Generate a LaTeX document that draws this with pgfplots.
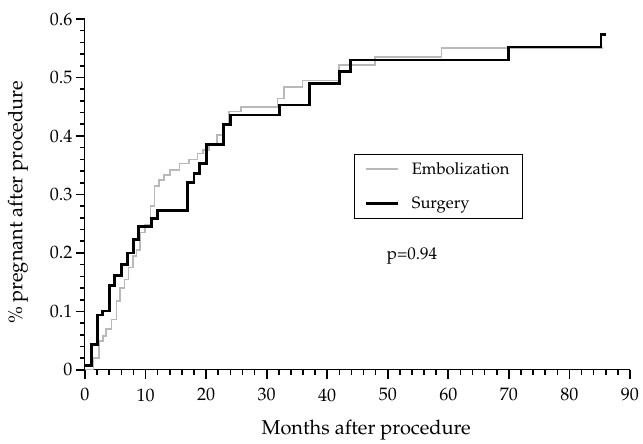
\documentclass[border=0pt]{standalone}
\usepackage[T1]{fontenc}
\usepackage{mathpazo}
\usepackage{pgfplots}
\pgfplotsset{compat=1.18}
\definecolor{embol}{RGB}{185,185,185}
\begin{document}
\begin{tikzpicture}
\begin{axis}[
  scale only axis,
  width=545pt, height=351pt,
  xmin=0, xmax=90, ymin=0, ymax=0.6,
  axis x line*=bottom, axis y line*=left,
  xtick={0,10,20,30,40,50,60,70,80,90},
  ytick={0,0.1,0.2,0.3,0.4,0.5,0.6},
  minor x tick num=4, minor y tick num=4,
  tick align=outside,
  major tick length=9pt, minor tick length=5pt,
  major tick style={black, line width=1.8pt},
  minor tick style={black, line width=1.6pt},
  every outer x axis line/.append style={line width=1pt},
  every outer y axis line/.append style={line width=1pt},
  tick label style={font=\fontsize{18}{20}\selectfont},
  xticklabel style={yshift=-6pt},
  xlabel={Months after procedure},
  ylabel={\% pregnant after procedure},
  every axis x label/.style={at={(axis description cs:0.516,0)}, anchor=base, yshift=-65pt, font=\fontsize{20}{24}\selectfont},
  every axis y label/.style={at={(axis description cs:-0.123,0.477)}, rotate=90, anchor=center, font=\fontsize{20}{24}\selectfont},
  legend style={at={(axis cs:44.4,0.369)}, anchor=north west, draw=black,
    font=\fontsize{16.5}{19}\selectfont, inner xsep=11pt, inner ysep=6pt, row sep=17pt,
    /tikz/every odd column/.style={column sep=10pt}},
  legend cell align=left,
  legend image code/.code={\draw[#1] (0pt,0pt) -- (32pt,0pt);},
]
\addplot[const plot, color=embol, line width=1.6pt] coordinates {
(0,0) (1.4,0.02) (2.3,0.05) (3.0,0.058) (3.5,0.07) (4.4,0.086) (5.2,0.118)
(5.8,0.14) (6.5,0.155) (7.2,0.175) (7.9,0.195) (8.5,0.205) (9.1,0.235)
(9.9,0.248) (10.8,0.28) (11.5,0.315) (12.2,0.325) (13.0,0.333) (14.0,0.342)
(15.6,0.353) (17.2,0.36) (18.6,0.37) (19.5,0.376) (20.5,0.385) (21.8,0.402)
(22.8,0.42) (23.8,0.442) (25.8,0.45) (31.8,0.464) (32.9,0.484) (35.9,0.495)
(41.9,0.521) (47.9,0.535) (58.9,0.55) (85.5,0.55)
};
\addlegendentry{Embolization}
\addplot[const plot, color=black, line width=2.8pt] coordinates {
(0,0.008) (1.1,0.044) (2.0,0.094) (2.9,0.101) (4.1,0.145) (4.9,0.161)
(6.0,0.181) (7.0,0.2) (8.0,0.223) (8.9,0.245) (11.0,0.259) (12.0,0.272)
(16.9,0.320) (18.0,0.336) (18.9,0.353) (20.0,0.385) (22.9,0.419) (24.0,0.436)
(32.1,0.453) (37.1,0.490) (42.0,0.510) (43.9,0.530) (69.9,0.552) (85.2,0.573)
(86.1,0.573)
};
\addlegendentry{Surgery}
\node[font=\fontsize{17}{20}\selectfont] at (axis cs:54.0,0.195) {p=0.94};
\end{axis}
\path (-85pt,-70pt) rectangle (558pt,370pt);
\end{tikzpicture}
\end{document}
